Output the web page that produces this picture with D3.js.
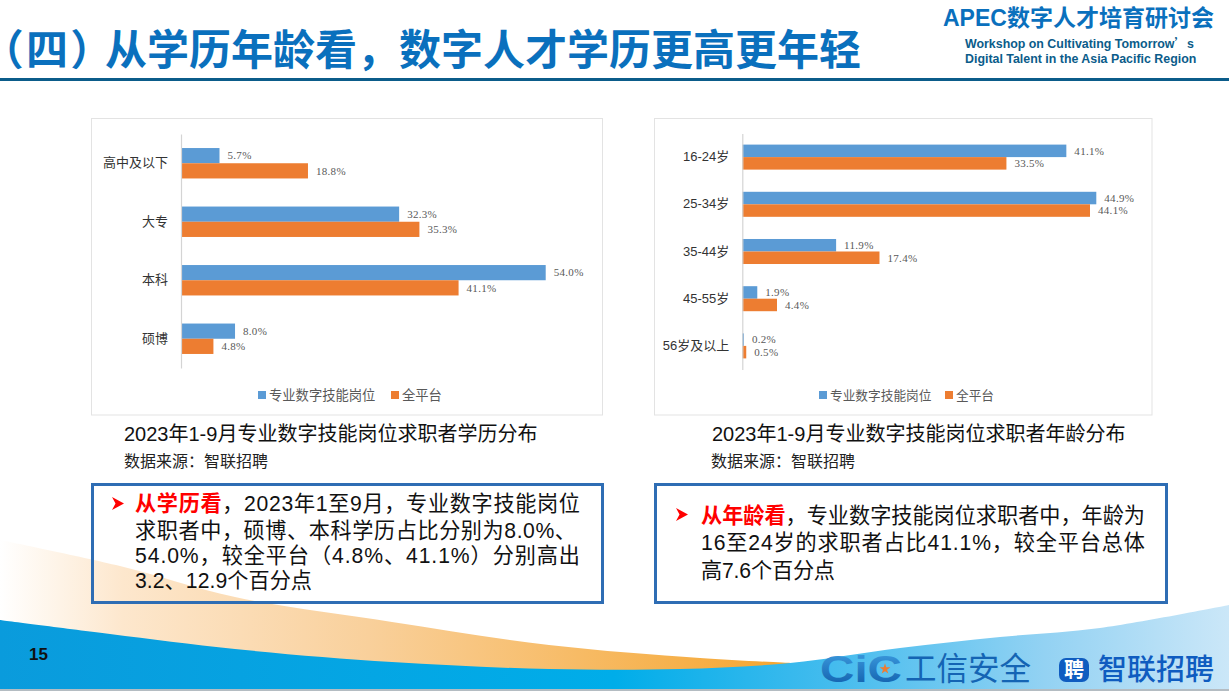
<!DOCTYPE html>
<html>
<head>
<meta charset="utf-8">
<script src="https://cdn.jsdelivr.net/npm/d3@7"></script>
<style>
  html, body { margin: 0; padding: 0; background: #fff; overflow: hidden; }
  svg { display: block; }
  text { font-family: "Liberation Sans", "Noto Sans CJK SC", sans-serif; }
</style>
</head>
<body>
<svg id="slide" width="1229" height="691"></svg>
<script>
const seriesNames = ["专业数字技能岗位", "全平台"];
const seriesColors = ["#5b9bd5", "#ed7d31"];

const eduCategories = ["高中及以下", "大专", "本科", "硕博"];
const eduSkilled = [5.7, 32.3, 54.0, 8.0];
const eduPlatform = [18.8, 35.3, 41.1, 4.8];

const ageCategories = ["16-24岁", "25-34岁", "35-44岁", "45-55岁", "56岁及以上"];
const ageSkilled = [41.1, 44.9, 11.9, 1.9, 0.2];
const agePlatform = [33.5, 44.1, 17.4, 4.4, 0.5];

// full-width punctuation
const COMMA = "\uFF0C", LP = "\uFF08", RP = "\uFF09", COLON = "\uFF1A";

const svg = d3.select("#slide");
const defs = svg.append("defs");
const cjk = '"Noto Sans CJK SC", sans-serif';

// background swooshes
const curve = d3.line().curve(d3.curveCatmullRom.alpha(0.5));

function gradient(id, stops) {
  const g = defs.append("linearGradient").attr("id", id)
    .attr("gradientUnits", "userSpaceOnUse")
    .attr("x1", 0).attr("x2", 1229).attr("y1", 0).attr("y2", 0);
  stops.forEach(s => g.append("stop").attr("offset", s[0]).attr("stop-color", s[1]));
}
gradient("orangeFade", [[0, "#ffffff"], [0.1, "#fde7cd"], [0.3, "#f9d09b"], [0.64, "#f5a630"]]);
gradient("blueFade", [[0, "#0a9bdc"], [0.5, "#00ade9"], [0.68, "#45bcee"], [0.85, "#93d2f3"], [1, "#cbe7f8"]]);

const logoFade = defs.append("linearGradient").attr("id", "logoFade")
  .attr("x1", 0).attr("x2", 0).attr("y1", 0).attr("y2", 1);
logoFade.append("stop").attr("offset", 0).attr("stop-color", "#3f9fe2");
logoFade.append("stop").attr("offset", 1).attr("stop-color", "#0d5aa8");

const orangeTop = [[0, 540], [120, 566], [235, 597], [392, 622], [549, 645], [700, 658], [790, 663]];
const blueTop = [[0, 620], [110, 634], [235, 649], [392, 662], [549, 669], [680, 669], [790, 663], [900, 648], [1000, 637], [1100, 628], [1229, 605]];

svg.append("path")
  .attr("d", curve(orangeTop) + "L790,680L0,680Z")
  .attr("fill", "url(#orangeFade)");
svg.append("path")
  .attr("d", curve(blueTop) + "L1229,691L0,691Z")
  .attr("fill", "url(#blueFade)");
svg.append("rect").attr("x", 0).attr("y", 689).attr("width", 1229).attr("height", 2).attr("fill", "#b4bcc2");

// header
const title = svg.append("text").attr("x", 1).attr("y", 65)
  .style("font-family", cjk).style("font-weight", 700).style("font-size", "42px")
  .attr("fill", "#0a70bd");
title.append("tspan")
  .style("font-feature-settings", '"palt"').style("letter-spacing", "4px")
  .text(LP + "四" + RP);
title.append("tspan").attr("x", 105).text("从学历年龄看" + COMMA + "数字人才学历更高更年轻");
svg.append("rect").attr("x", 0).attr("y", 78).attr("width", 1229).attr("height", 3).attr("fill", "#0b5c8a");

svg.append("text").attr("x", 943).attr("y", 26)
  .style("font-weight", 700).style("font-size", "23px").attr("fill", "#0a70bd")
  .text("APEC数字人才培育研讨会");
const subtitle = svg.append("text").attr("x", 965).attr("y", 48)
  .style("font-weight", 700).style("font-size", "12.4px").attr("fill", "#0b5c8a");
subtitle.append("tspan").text("Workshop on Cultivating Tomorrow");
subtitle.append("tspan").style("font-family", cjk).text("’");
subtitle.append("tspan").text("s");
svg.append("text").attr("x", 965).attr("y", 63)
  .style("font-weight", 700).style("font-size", "12.4px").attr("fill", "#0b5c8a")
  .text("Digital Talent in the Asia Pacific Region");

function drawChart(opt) {
  const g = svg.append("g");

  g.append("rect")
    .attr("x", opt.panel[0]).attr("y", opt.panel[1])
    .attr("width", opt.panel[2]).attr("height", opt.panel[3])
    .attr("fill", "#fff").attr("stroke", "#e3e3e3");

  const x = d3.scaleLinear().domain([0, opt.maxValue]).range([opt.axisX, opt.maxX]);
  const y = d3.scaleBand().domain(opt.categories).range(opt.yRange)
    .paddingInner(opt.gap).paddingOuter(opt.gap / 2);
  const inner = d3.scaleBand().domain([0, 1]).range([0, y.bandwidth()]);

  const rows = opt.categories.map((c, i) => ({ c, v: [opt.a[i], opt.b[i]] }));

  const row = g.selectAll("g.row").data(rows).enter().append("g").attr("class", "row")
    .attr("transform", d => `translate(0,${y(d.c)})`);

  [0, 1].forEach(s => {
    row.append("rect")
      .attr("x", x(0))
      .attr("y", inner(s))
      .attr("width", d => x(d.v[s]) - x(0))
      .attr("height", inner.bandwidth())
      .attr("fill", seriesColors[s]);
    row.append("text")
      .attr("x", d => x(d.v[s]) + 8)
      .attr("y", inner(s) + inner.bandwidth() / 2)
      .attr("dy", "0.35em")
      .style("font-family", '"Liberation Serif", serif')
      .style("font-size", "11px")
      .style("letter-spacing", "0.3px")
      .attr("fill", "#595959")
      .text(d => d.v[s].toFixed(1) + "%");
  });

  const axis = g.append("g")
    .attr("transform", `translate(${opt.axisX},0)`)
    .call(d3.axisLeft(y).tickSize(0).tickPadding(13));
  axis.select(".domain").attr("stroke", "#d4d4d4").attr("stroke-width", 1.2);
  axis.selectAll("text")
    .style("font-family", '"Liberation Sans", "Noto Sans CJK SC", sans-serif')
    .style("font-size", "13px")
    .attr("fill", "#333");

  // legend
  seriesNames.forEach((name, i) => {
    g.append("rect")
      .attr("x", opt.legendX[i]).attr("y", opt.legendY - 4)
      .attr("width", 8).attr("height", 8)
      .attr("fill", seriesColors[i]);
    g.append("text")
      .attr("x", opt.legendX[i] + 11).attr("y", opt.legendY)
      .attr("dy", "0.36em")
      .style("font-family", cjk).style("font-size", opt.legendSize)
      .attr("fill", "#595959")
      .text(name);
  });

  svg.append("text").attr("x", opt.captionX).attr("y", 441)
    .style("font-size", "20px").attr("fill", "#111")
    .text(opt.caption);
  svg.append("text").attr("x", opt.sourceX).attr("y", 467)
    .style("font-size", "16px").attr("fill", "#222")
    .text("数据来源" + COLON + "智联招聘");
}

drawChart({
  panel: [91.5, 118.5, 511, 296.5],
  categories: eduCategories, a: eduSkilled, b: eduPlatform,
  maxValue: 54, axisX: 181, maxX: 545.7, yRange: [134, 368], gap: 0.48,
  legendX: [258, 391], legendY: 395, legendSize: "13.3px",
  caption: "2023年1-9月专业数字技能岗位求职者学历分布", captionX: 124, sourceX: 124
});
drawChart({
  panel: [654.5, 118.5, 497.5, 296.5],
  categories: ageCategories, a: ageSkilled, b: agePlatform,
  maxValue: 44.9, axisX: 742.3, maxX: 1096.3, yRange: [133.5, 369.5], gap: 0.47,
  legendX: [819, 945], legendY: 395, legendSize: "12.7px",
  caption: "2023年1-9月专业数字技能岗位求职者年龄分布", captionX: 712, sourceX: 711
});

// text boxes
function drawNote(box, arrowPos, textX, lead, lines, ys, widths) {
  svg.append("rect")
    .attr("x", box[0]).attr("y", box[1]).attr("width", box[2]).attr("height", box[3])
    .attr("fill", "none").attr("stroke", "#2e6db4").attr("stroke-width", 3);
  svg.append("path")
    .attr("transform", `translate(${arrowPos[0]},${arrowPos[1]})`)
    .attr("d", "M0,0L12,6.5L0,13L3.5,6.5Z")
    .attr("fill", "#ff0000");
  lines.forEach((line, i) => {
    const t = svg.append("text").attr("x", textX).attr("y", ys[i])
      .attr("textLength", widths[i])
      .style("font-size", "21.15px").attr("fill", "#111");
    if (i === 0) {
      t.append("tspan").attr("fill", "#ff0000").style("font-weight", 700).text(lead);
    }
    t.append("tspan").text(line);
  });
}

drawNote([92.5, 484.5, 510, 118], [112, 497], 135, "从学历看",
  [COMMA + "2023年1至9月" + COMMA + "专业数字技能岗位",
   "求职者中" + COMMA + "硕博、本科学历占比分别为8.0%、",
   "54.0%" + COMMA + "较全平台" + LP + "4.8%、41.1%" + RP + "分别高出",
   "3.2、12.9个百分点"],
  [511, 538, 563, 588], [445, 441, 445, 177]);
drawNote([655.5, 484.5, 511, 118], [676, 508], 701, "从年龄看",
  [COMMA + "专业数字技能岗位求职者中" + COMMA + "年龄为",
   "16至24岁的求职者占比41.1%" + COMMA + "较全平台总体",
   "高7.6个百分点"],
  [523, 550, 578], [444, 444, 134]);

// footer
svg.append("text").attr("x", 29).attr("y", 660)
  .style("font-weight", 700).style("font-size", "17px").attr("fill", "#111").text("15");

const logoBlue = "#0f5cc0";
svg.append("text").attr("x", 820).attr("y", 682)
  .attr("textLength", 82).attr("lengthAdjust", "spacingAndGlyphs")
  .style("font-weight", 700).style("font-size", "36px")
  .attr("fill", "url(#logoFade)").text("CiC");
svg.append("path")
  .attr("transform", "translate(885,669)")
  .attr("d", d3.symbol().type(d3.symbolStar).size(36)())
  .attr("fill", "#ee7d31");
svg.append("text").attr("x", 905).attr("y", 680)
  .style("font-family", cjk).style("font-size", "31.5px").attr("fill", "#1464b4").text("工信安全");
svg.append("rect").attr("x", 1059).attr("y", 658).attr("width", 30).attr("height", 24).attr("rx", 7).attr("fill", logoBlue);
svg.append("text").attr("x", 1074).attr("y", 677).attr("text-anchor", "middle")
  .style("font-family", cjk).style("font-weight", 700).style("font-size", "20px").attr("fill", "#fff").text("聘");
svg.append("text").attr("x", 1098).attr("y", 680)
  .style("font-family", cjk).style("font-weight", 500).style("font-size", "29px").attr("fill", logoBlue).text("智联招聘");
</script>
</body>
</html>
